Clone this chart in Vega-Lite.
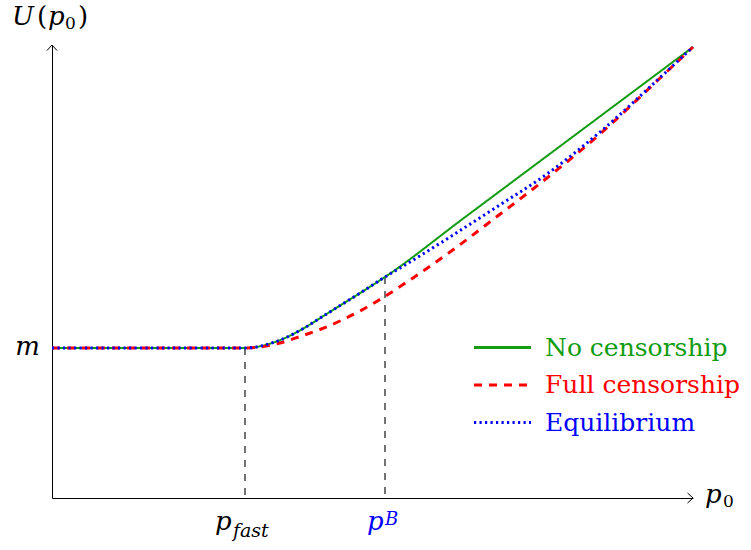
{
  "$schema": "https://vega.github.io/schema/vega-lite/v6.json",
  "width": 641,
  "height": 453,
  "autosize": {"type": "none"},
  "padding": {"left": 52, "top": 45, "right": 58, "bottom": 52},
  "background": "white",
  "config": {"view": {"stroke": null}, "font": "DejaVu Serif"},
  "datasets": {
    "curves": [
      {"series": "No censorship", "x": 0, "y": 3.311},
      {"series": "No censorship", "x": 3.011, "y": 3.311},
      {"series": "No censorship", "x": 3.167, "y": 3.327},
      {"series": "No censorship", "x": 3.323, "y": 3.377},
      {"series": "No censorship", "x": 3.635, "y": 3.532},
      {"series": "No censorship", "x": 3.947, "y": 3.764},
      {"series": "No censorship", "x": 4.259, "y": 4.04},
      {"series": "No censorship", "x": 4.571, "y": 4.316},
      {"series": "No censorship", "x": 4.883, "y": 4.592},
      {"series": "No censorship", "x": 5.195, "y": 4.879},
      {"series": "No censorship", "x": 6.4, "y": 6.153},
      {"series": "No censorship", "x": 8.2, "y": 8.055},
      {"series": "No censorship", "x": 10, "y": 9.956},
      {"series": "Full censorship", "x": 0, "y": 3.311},
      {"series": "Full censorship", "x": 3.011, "y": 3.311},
      {"series": "Full censorship", "x": 3.245, "y": 3.333},
      {"series": "Full censorship", "x": 3.557, "y": 3.422},
      {"series": "Full censorship", "x": 3.869, "y": 3.565},
      {"series": "Full censorship", "x": 4.181, "y": 3.72},
      {"series": "Full censorship", "x": 4.493, "y": 3.907},
      {"series": "Full censorship", "x": 4.805, "y": 4.128},
      {"series": "Full censorship", "x": 5.117, "y": 4.382},
      {"series": "Full censorship", "x": 5.538, "y": 4.768},
      {"series": "Full censorship", "x": 6.209, "y": 5.43},
      {"series": "Full censorship", "x": 6.911, "y": 6.181},
      {"series": "Full censorship", "x": 7.722, "y": 7.064},
      {"series": "Full censorship", "x": 8.549, "y": 8.035},
      {"series": "Full censorship", "x": 9.454, "y": 9.227},
      {"series": "Full censorship", "x": 10, "y": 9.956},
      {"series": "Equilibrium", "x": 0, "y": 3.311},
      {"series": "Equilibrium", "x": 3.011, "y": 3.311},
      {"series": "Equilibrium", "x": 3.167, "y": 3.327},
      {"series": "Equilibrium", "x": 3.323, "y": 3.377},
      {"series": "Equilibrium", "x": 3.635, "y": 3.532},
      {"series": "Equilibrium", "x": 3.947, "y": 3.764},
      {"series": "Equilibrium", "x": 4.259, "y": 4.04},
      {"series": "Equilibrium", "x": 4.571, "y": 4.316},
      {"series": "Equilibrium", "x": 4.883, "y": 4.592},
      {"series": "Equilibrium", "x": 5.195, "y": 4.879},
      {"series": "Equilibrium", "x": 5.507, "y": 5.143},
      {"series": "Equilibrium", "x": 6.209, "y": 5.762},
      {"series": "Equilibrium", "x": 6.911, "y": 6.402},
      {"series": "Equilibrium", "x": 7.722, "y": 7.152},
      {"series": "Equilibrium", "x": 8.549, "y": 8.079},
      {"series": "Equilibrium", "x": 9.454, "y": 9.238},
      {"series": "Equilibrium", "x": 10, "y": 9.956}
    ],
    "guides": [
      {"name": "p_fast", "x": 3.011, "y": 3.311},
      {"name": "p_B", "x": 5.195, "y": 4.879}
    ],
    "arrows": [
      {"id": "x", "x": 10, "y": 0},
      {"id": "y", "x": 0, "y": 10}
    ],
    "labels": [
      {"piece": "U", "x": 0, "y": 10, "t": "U"},
      {"piece": "lp", "x": 0, "y": 10, "t": "("},
      {"piece": "yp", "x": 0, "y": 10, "t": "p"},
      {"piece": "y0", "x": 0, "y": 10, "t": "0"},
      {"piece": "rp", "x": 0, "y": 10, "t": ")"},
      {"piece": "m", "x": 0, "y": 3.311, "t": "m"},
      {"piece": "fp", "x": 3.011, "y": 0, "t": "p"},
      {"piece": "fs", "x": 3.011, "y": 0, "t": "fast"},
      {"piece": "bp", "x": 5.195, "y": 0, "t": "p"},
      {"piece": "bs", "x": 5.195, "y": 0, "t": "B"},
      {"piece": "xp", "x": 10, "y": 0, "t": "p"},
      {"piece": "x0", "x": 10, "y": 0, "t": "0"}
    ]
  },
  "encoding": {
    "x": {"field": "x", "type": "quantitative", "scale": {"domain": [0, 10], "nice": false, "zero": false}, "axis": {"title": null, "domain": true, "domainColor": "black", "domainWidth": 1, "ticks": false, "labels": false, "grid": false}},
    "y": {"field": "y", "type": "quantitative", "scale": {"domain": [0, 10], "nice": false, "zero": false}, "axis": {"title": null, "domain": true, "domainColor": "black", "domainWidth": 1, "ticks": false, "labels": false, "grid": false}}
  },
  "layer": [
    {
      "data": {"name": "guides"},
      "mark": {"type": "rule", "color": "black", "strokeWidth": 1.1, "strokeDash": [7, 7]},
      "encoding": {"y2": {"datum": 0}}
    },
    {
      "data": {"name": "curves"},
      "transform": [{"filter": "datum.series === 'No censorship'"}],
      "mark": {"type": "line", "strokeWidth": 2, "interpolate": "monotone"},
      "encoding": {
        "color": {"field": "series", "type": "nominal",
          "scale": {"domain": ["No censorship", "Full censorship", "Equilibrium"], "range": ["#119c11", "#ff0000", "#0000ff"]},
          "legend": {"orient": "none", "legendX": 438, "legendY": 290, "title": null, "symbolType": "M-3,0H3", "symbolSize": 361, "symbolStrokeWidth": 3, "labelFont": "DejaVu Serif", "labelFontSize": 25, "labelOffset": 30, "rowPadding": 11.5, "padding": 0, "labelLimit": 400,
            "encode": {"labels": {"update": {"fill": {"scale": "color", "field": "value"}}}}}},
        "strokeDash": {"field": "series", "type": "nominal",
          "scale": {"domain": ["No censorship", "Full censorship", "Equilibrium"], "range": [[1, 0], [8, 7], [2.2, 3.3]]}}
      }
    },
    {
      "data": {"name": "curves"},
      "transform": [{"filter": "datum.series === 'Full censorship'"}],
      "mark": {"type": "line", "strokeWidth": 3, "interpolate": "monotone"},
      "encoding": {
        "color": {"field": "series", "type": "nominal"},
        "strokeDash": {"field": "series", "type": "nominal"}
      }
    },
    {
      "data": {"name": "curves"},
      "transform": [{"filter": "datum.series === 'Equilibrium'"}],
      "mark": {"type": "line", "strokeWidth": 3, "interpolate": "monotone"},
      "encoding": {
        "color": {"field": "series", "type": "nominal"},
        "strokeDash": {"field": "series", "type": "nominal"}
      }
    },
    {
      "data": {"name": "arrows"},
      "transform": [{"filter": "datum.id === 'x'"}],
      "mark": {"type": "point", "shape": "M-1.1,-1L0,0L-1.1,1", "size": 100, "filled": false, "stroke": "black", "strokeWidth": 1, "opacity": 1}
    },
    {
      "data": {"name": "arrows"},
      "transform": [{"filter": "datum.id === 'y'"}],
      "mark": {"type": "point", "shape": "M-1,1.1L0,0L1,1.1", "size": 100, "filled": false, "stroke": "black", "strokeWidth": 1, "opacity": 1}
    },
    {
      "data": {"name": "labels"},
      "transform": [{"filter": "datum.piece === 'U'"}],
      "mark": {"type": "text", "align": "left", "baseline": "alphabetic", "dx": -40, "dy": -20, "fontSize": 26, "fontStyle": "italic", "font": "DejaVu Serif", "color": "black"},
      "encoding": {"text": {"field": "t"}}
    },
    {
      "data": {"name": "labels"},
      "transform": [{"filter": "datum.piece === 'lp'"}],
      "mark": {"type": "text", "align": "left", "baseline": "alphabetic", "dx": -15, "dy": -20, "fontSize": 26, "font": "DejaVu Serif", "color": "black"},
      "encoding": {"text": {"field": "t"}}
    },
    {
      "data": {"name": "labels"},
      "transform": [{"filter": "datum.piece === 'yp'"}],
      "mark": {"type": "text", "align": "left", "baseline": "alphabetic", "dx": -4, "dy": -20, "fontSize": 26, "fontStyle": "italic", "font": "DejaVu Serif", "color": "black"},
      "encoding": {"text": {"field": "t"}}
    },
    {
      "data": {"name": "labels"},
      "transform": [{"filter": "datum.piece === 'y0'"}],
      "mark": {"type": "text", "align": "left", "baseline": "alphabetic", "dx": 13, "dy": -16, "fontSize": 17, "font": "DejaVu Serif", "color": "black"},
      "encoding": {"text": {"field": "t"}}
    },
    {
      "data": {"name": "labels"},
      "transform": [{"filter": "datum.piece === 'rp'"}],
      "mark": {"type": "text", "align": "left", "baseline": "alphabetic", "dx": 26, "dy": -20, "fontSize": 26, "font": "DejaVu Serif", "color": "black"},
      "encoding": {"text": {"field": "t"}}
    },
    {
      "data": {"name": "labels"},
      "transform": [{"filter": "datum.piece === 'm'"}],
      "mark": {"type": "text", "align": "right", "baseline": "alphabetic", "dx": -12, "dy": 7, "fontSize": 26, "fontStyle": "italic", "font": "DejaVu Serif", "color": "black"},
      "encoding": {"text": {"field": "t"}}
    },
    {
      "data": {"name": "labels"},
      "transform": [{"filter": "datum.piece === 'fp'"}],
      "mark": {"type": "text", "align": "left", "baseline": "alphabetic", "dx": -30, "dy": 32, "fontSize": 26, "fontStyle": "italic", "font": "DejaVu Serif", "color": "black"},
      "encoding": {"text": {"field": "t"}}
    },
    {
      "data": {"name": "labels"},
      "transform": [{"filter": "datum.piece === 'fs'"}],
      "mark": {"type": "text", "align": "left", "baseline": "alphabetic", "dx": -12, "dy": 39, "fontSize": 19, "fontStyle": "italic", "font": "DejaVu Serif", "color": "black"},
      "encoding": {"text": {"field": "t"}}
    },
    {
      "data": {"name": "labels"},
      "transform": [{"filter": "datum.piece === 'bp'"}],
      "mark": {"type": "text", "align": "left", "baseline": "alphabetic", "dx": -18, "dy": 32, "fontSize": 26, "fontStyle": "italic", "font": "DejaVu Serif", "color": "#0000ff"},
      "encoding": {"text": {"field": "t"}}
    },
    {
      "data": {"name": "labels"},
      "transform": [{"filter": "datum.piece === 'bs'"}],
      "mark": {"type": "text", "align": "left", "baseline": "alphabetic", "dx": 0, "dy": 27, "fontSize": 18, "fontStyle": "italic", "font": "DejaVu Serif", "color": "#0000ff"},
      "encoding": {"text": {"field": "t"}}
    },
    {
      "data": {"name": "labels"},
      "transform": [{"filter": "datum.piece === 'xp'"}],
      "mark": {"type": "text", "align": "left", "baseline": "alphabetic", "dx": 12, "dy": 5, "fontSize": 26, "fontStyle": "italic", "font": "DejaVu Serif", "color": "black"},
      "encoding": {"text": {"field": "t"}}
    },
    {
      "data": {"name": "labels"},
      "transform": [{"filter": "datum.piece === 'x0'"}],
      "mark": {"type": "text", "align": "left", "baseline": "alphabetic", "dx": 30, "dy": 9, "fontSize": 17, "font": "DejaVu Serif", "color": "black"},
      "encoding": {"text": {"field": "t"}}
    }
  ]
}
